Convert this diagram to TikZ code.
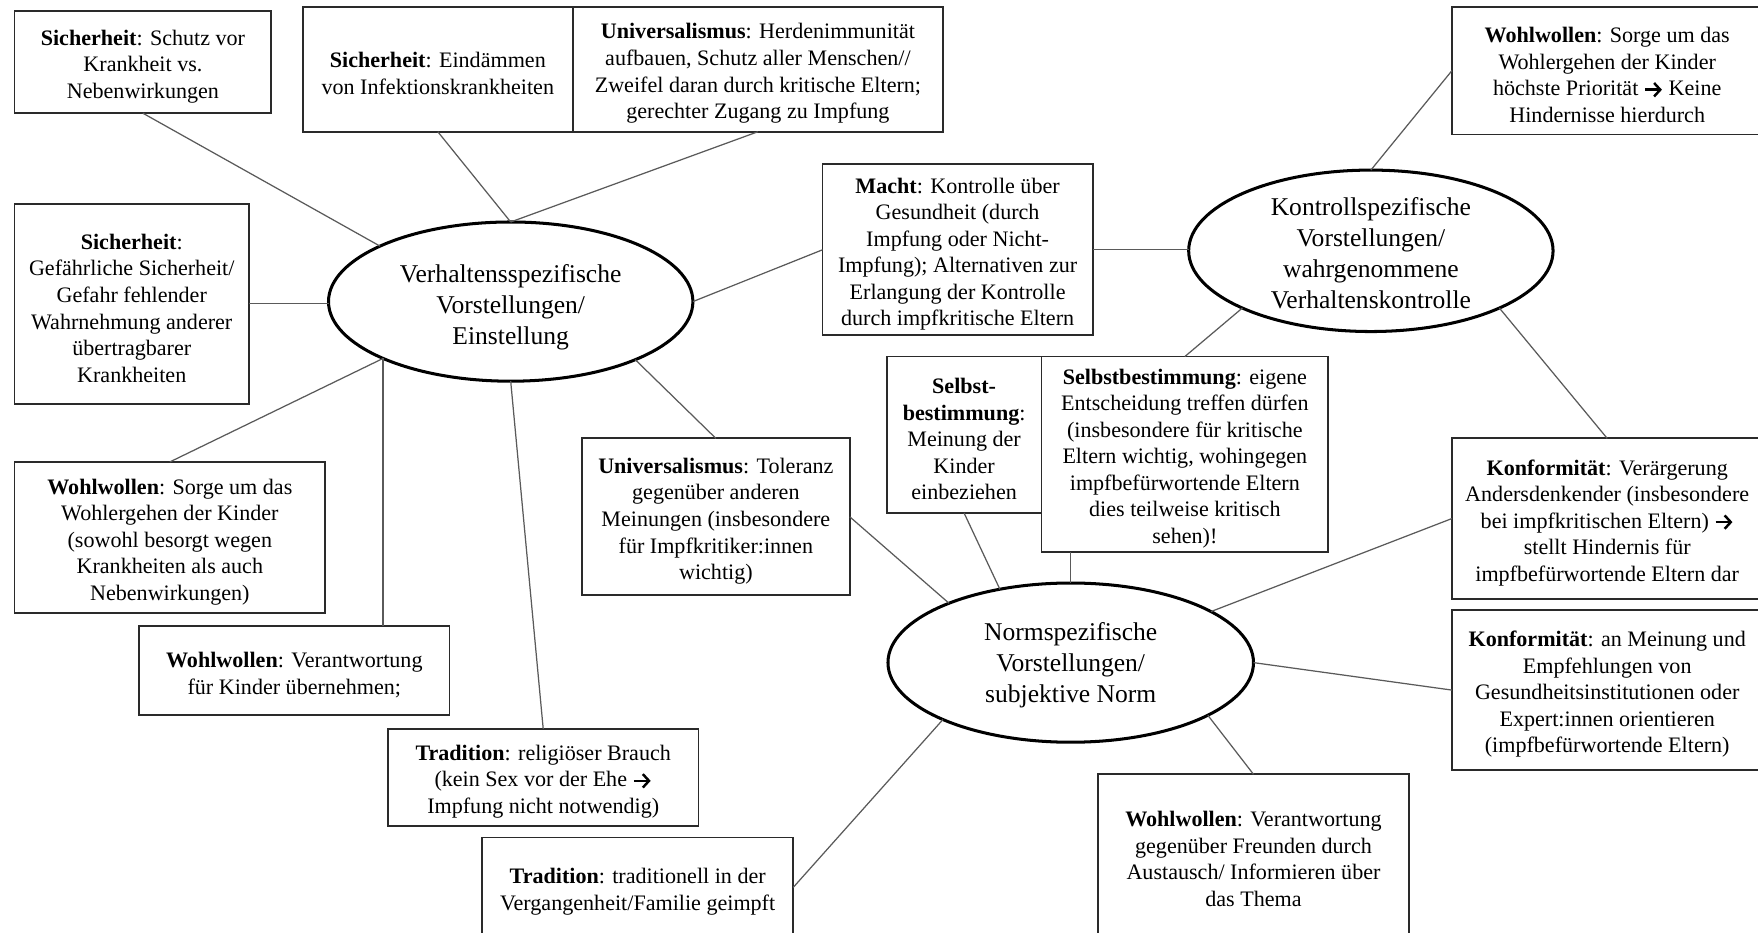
\documentclass[tikz,border=0pt]{standalone}
\usepackage{fontspec}
\setmainfont{Liberation Serif}
\usetikzlibrary{shapes.geometric,calc,arrows.meta}
\definecolor{boxline}{HTML}{2A2A2A}
\definecolor{linkgray}{HTML}{5A5A5A}
% thick arrow with open chevron head, as used inside the text
\newcommand{\arr}{\tikz[baseline=-0.6ex]\draw[line width=2.2pt,
  -{Straight Barb[length=5.5pt,width=12pt]}] (0pt,0pt) -- (15pt,0pt);}
% strut that sets the height of the first text line in a box
\newcommand{\fl}{\rule{0pt}{21.4pt}}
\begin{document}
\begin{tikzpicture}[x=1pt,y=-1pt,
  box/.style={rectangle, draw=boxline, line width=1.6pt, fill=white, inner sep=2pt, outer sep=0pt,
    align=center, font=\fontsize{19.7}{23.7}\selectfont},
  ell/.style={ellipse, draw=black, line width=2.7pt, fill=white, inner sep=0pt, outer sep=0pt},
  elltext/.style={align=center, inner sep=0pt, font=\fontsize{22.8}{27.7}\selectfont},
  link/.style={draw=linkgray, line width=1.1pt}]

\useasboundingbox (0,0) rectangle (1568,832);
\fill[white] (0,0) rectangle (1568,832);
\clip (0,0) rectangle (1568,832);

% --- central constructs ---
\node[ell, minimum width=325pt, minimum height=142pt] (verh) at (455.5,269) {};
\node[elltext] at (455.5,274) {Verhaltensspezifische\\Vorstellungen/\\Einstellung};

\node[ell, minimum width=325pt, minimum height=144pt] (kontr) at (1222.7,223.7) {};
\node[elltext] at (1222.7,225.5) {Kontrollspezifische\\Vorstellungen/\\wahrgenommene\\Verhaltenskontrolle};

\node[ell, minimum width=326pt, minimum height=142pt] (norm) at (955,591) {};
\node[elltext] at (955,593) {Normspezifische\\Vorstellungen/\\subjektive Norm};

% --- value boxes around the behaviour-specific beliefs ---
\node[box, minimum width=229pt, minimum height=91pt] (sichA) at (127.5,55.5)
  {\fl\textbf{Sicherheit}: Schutz vor\\Krankheit vs.\\Nebenwirkungen};
\node[box, minimum width=241pt, minimum height=111.5pt] (sichB) at (390.5,61.75)
  {\fl\textbf{Sicherheit}: Eindämmen\\von Infektionskrankheiten};
\node[box, minimum width=330pt, minimum height=111.5pt] (univC) at (676,61.75)
  {\fl\textbf{Universalismus}: Herdenimmunität\\aufbauen, Schutz aller Menschen//\\Zweifel daran durch kritische Eltern;\\gerechter Zugang zu Impfung};
\node[box, minimum width=209pt, minimum height=178pt] (sichD) at (117.5,271)
  {\fl\textbf{Sicherheit}:\\Gefährliche Sicherheit/\\Gefahr fehlender\\Wahrnehmung anderer\\übertragbarer\\Krankheiten};
\node[box, minimum width=277pt, minimum height=135pt] (wohlE) at (151.5,479.5)
  {\fl\textbf{Wohlwollen}: Sorge um das\\Wohlergehen der Kinder\\(sowohl besorgt wegen\\Krankheiten als auch\\Nebenwirkungen)};
\node[box, minimum width=277pt, minimum height=80pt] (wohlF) at (262.5,598)
  {\fl\textbf{Wohlwollen}: Verantwortung\\für Kinder übernehmen;};
\node[box, minimum width=277pt, minimum height=86.5pt] (tradG) at (484.5,693.3)
  {\fl\textbf{Tradition}: religiöser Brauch\\(kein Sex vor der Ehe \arr\\Impfung nicht notwendig)};
\node[box, minimum width=277.5pt, minimum height=89pt] (tradH) at (568.75,791.5)
  {\fl\textbf{Tradition}: traditionell in der\\Vergangenheit/Familie geimpft};
\node[box, minimum width=239pt, minimum height=140pt] (univI) at (638.5,461)
  {\fl\textbf{Universalismus}: Toleranz\\gegenüber anderen\\Meinungen (insbesondere\\für Impfkritiker:innen\\wichtig)};
\node[box, minimum width=241pt, minimum height=152.4pt] (macht) at (854.1,222.8)
  {\fl\textbf{Macht}: Kontrolle über\\Gesundheit (durch\\Impfung oder Nicht-\\Impfung); Alternativen zur\\Erlangung der Kontrolle\\durch impfkritische Eltern};

% --- boxes between the control and norm beliefs ---
\node[box, minimum width=138.2pt, minimum height=139.6pt] (selbstK) at (859.9,387.8)
  {\fl\textbf{Selbst-}\\\textbf{bestimmung}:\\Meinung der\\Kinder\\einbeziehen};
\node[box, minimum width=255.6pt, minimum height=174pt] (selbstL) at (1056.8,405)
  {\fl\textbf{Selbstbestimmung}: eigene\\Entscheidung treffen dürfen\\(insbesondere für kritische\\Eltern wichtig, wohingegen\\impfbefürwortende Eltern\\dies teilweise kritisch\\sehen)!};

% --- right column ---
\node[box, minimum width=277pt, minimum height=114pt] (wohlM) at (1433.5,63)
  {\fl\textbf{Wohlwollen}: Sorge um das\\Wohlergehen der Kinder\\höchste Priorität \arr{} Keine\\Hindernisse hierdurch};
\node[box, minimum width=277pt, minimum height=143pt] (konfN) at (1433.5,462.5)
  {\fl\textbf{Konformität}: Verärgerung\\Andersdenkender (insbesondere\\bei impfkritischen Eltern) \arr\\stellt Hindernis für\\impfbefürwortende Eltern dar};
\node[box, minimum width=277pt, minimum height=143pt] (konfO) at (1433.5,615.5)
  {\fl\textbf{Konformität}: an Meinung und\\Empfehlungen von\\Gesundheitsinstitutionen oder\\Expert:innen orientieren\\(impfbefürwortende Eltern)};
\node[box, minimum width=277.3pt, minimum height=143pt] (wohlP) at (1118,762.1)
  {\fl\textbf{Wohlwollen}: Verantwortung\\gegenüber Freunden durch\\Austausch/ Informieren über\\das Thema};

% --- connectors ---
\draw[link] (sichA.south) -- (verh.157.3);
\draw[link] (sichB.south) -- (verh.north);
\draw[link] (univC.south) -- (verh.north);
\draw[link] (sichD.east) -- (sichD.east -| verh.west);
\draw[link] (wohlE.north) -- (verh.-156);
\draw[link] (verh.-156) -- (verh.-156 |- wohlF.north);
\draw[link] (tradG.north) -- (verh.south);
\draw[link] (univI.north) -- (verh.-25.8);
\draw[link] (verh.east) -- (macht.west);
\draw[link] (macht.east) -- (macht.east -| kontr.west);
\draw[link] (kontr.north) -- (wohlM.west);
\draw[link] (kontr.-156) -- (selbstL.north);
\draw[link] (kontr.-24.6) -- (konfN.north);
\draw[link] (univI.east) -- (norm.154);
\draw[link] (selbstK.south) -- (norm.134.6);
\draw[link] (norm.north) -- (norm.north |- selbstL.south);
\draw[link] (norm.20) -- (konfN.west);
\draw[link] (norm.east) -- (konfO.west);
\draw[link] (norm.-21.6) -- (wohlP.north);
\draw[link] (norm.-156.4) -- (tradH.east);
\end{tikzpicture}
\end{document}
